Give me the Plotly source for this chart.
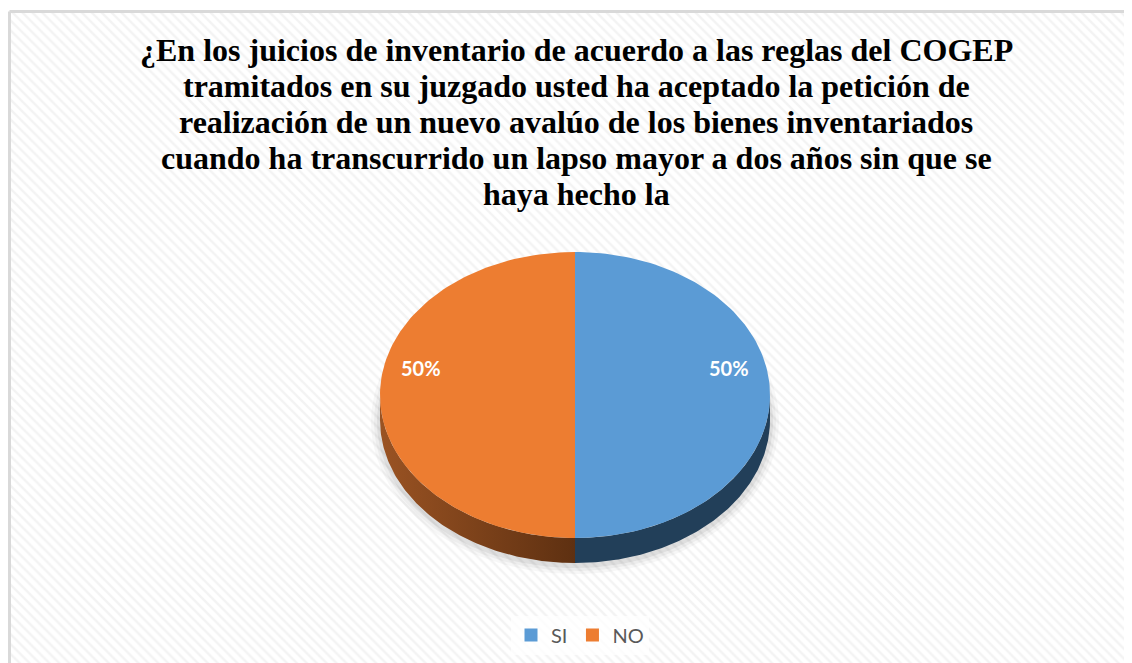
import numpy as np
import plotly.graph_objects as go

# ---- data ----
categories = ["SI", "NO"]
values = [50, 50]
top_colors = ["#5B9BD5", "#ED7D31"]
title_lines = [
    "¿En los juicios de inventario de acuerdo a las reglas del COGEP",
    "tramitados en su juzgado usted ha aceptado la petición de",
    "realización de un nuevo avalúo de los bienes inventariados",
    "cuando ha transcurrido un lapso mayor a dos años sin que se",
    "haya hecho la",
]

# ---- geometry (page pixel space; page body has an 8px margin) ----
W, H = 1132, 663
OFF = 8
cx, cy, rx, ry, depth = 575, 395, 195, 143, 25


def pt(theta_deg, dy=0.0):
    t = np.radians(theta_deg)
    return cx + rx * np.sin(t), cy - ry * np.cos(t) + dy


def arc(a, b, dy=0.0, n=120):
    th = np.linspace(a, b, n)
    xs, ys = pt(th, dy)
    return list(xs), list(ys)


fig = go.Figure()

# hatched chart-area background with light border
fig.add_trace(go.Scatter(
    x=[9.5, W + 20, W + 20, 9.5, 9.5], y=[11.5, 11.5, H + 20, H + 20, 11.5],
    fill="toself", mode="lines", line=dict(color="#D9D9D9", width=3),
    fillcolor="white",
    fillpattern=dict(shape="\\", fgcolor="#E8E8E8", bgcolor="white", size=7, solidity=0.35),
    hoverinfo="skip", showlegend=False))

# soft shadow
for k, op in [(9, 0.03), (6, 0.04), (3, 0.06)]:
    t = np.radians(np.linspace(0, 360, 240))
    fig.add_trace(go.Scatter(
        x=list(cx + (rx + k) * np.sin(t)), y=list(cy + depth + 2 - (ry + k) * np.cos(t)),
        fill="toself", mode="lines", line=dict(width=0),
        fillcolor=f"rgba(0,0,0,{op})", hoverinfo="skip", showlegend=False))

total = sum(values)
starts = np.cumsum([0] + values[:-1]) / total * 360
ends = np.cumsum(values) / total * 360
side_fill = [
    dict(fillcolor="#223F59"),
    dict(fillgradient=dict(type="horizontal",
                           colorscale=[[0, "#9A5323"], [1, "#5E3011"]])),
]

# side walls (front half only)
for i, (a, b) in enumerate(zip(starts, ends)):
    lo, hi = max(a, 90), min(b, 270)
    if hi <= lo:
        continue
    x1, y1 = arc(lo, hi)
    x2, y2 = arc(hi, lo, dy=depth)
    fig.add_trace(go.Scatter(
        x=x1 + x2 + [x1[0]], y=y1 + y2 + [y1[0]], fill="toself", mode="lines",
        line=dict(width=0), hoverinfo="skip", showlegend=False, **side_fill[i]))

# top faces
for i, (a, b) in enumerate(zip(starts, ends)):
    xs, ys = arc(a, b)
    fig.add_trace(go.Scatter(
        x=[cx] + xs + [cx], y=[cy] + ys + [cy], fill="toself", mode="lines",
        line=dict(width=0), fillcolor=top_colors[i], hoverinfo="skip", showlegend=False))

# data labels
for i, (a, b) in enumerate(zip(starts, ends)):
    m = (a + b) / 2
    lx = cx + 0.79 * rx * np.sin(np.radians(m))
    ly = cy - 0.79 * ry * np.cos(np.radians(m)) - 27
    pct = values[i] / total * 100
    fig.add_annotation(x=lx, y=ly, text=f"<b>{pct:.0f}%</b>", showarrow=False,
                       font=dict(family="Lato, Open Sans, sans-serif", size=20, color="white"))

# legend entries
for i, c in enumerate(categories):
    fig.add_trace(go.Scatter(x=[None], y=[None], mode="markers", name=c,
                             marker=dict(symbol="square", size=13, color=top_colors[i])))

# title, one annotation per line (tighter line spacing than plotly's default)
for j, line in enumerate(title_lines):
    fig.add_annotation(x=576, y=50 + j * 35.9, yanchor="middle", showarrow=False,
                       text=f"<b>{line}</b>",
                       font=dict(family="Liberation Serif, Times New Roman, serif",
                                 size=32, color="black"))

fig.update_layout(
    width=W, height=H, margin=dict(l=0, r=0, t=0, b=0),
    paper_bgcolor="white", plot_bgcolor="white",
    xaxis=dict(range=[OFF, W + OFF], visible=False, fixedrange=True),
    yaxis=dict(range=[H + OFF, OFF], visible=False, fixedrange=True),
    showlegend=True,
    legend=dict(orientation="h", x=(580 - OFF) / W, xanchor="center",
                y=1 - (635 - OFF) / H, yanchor="middle",
                bgcolor="rgba(255,255,255,0.75)",
                font=dict(family="Lato, Open Sans, sans-serif", size=20, color="#595959"),
                itemsizing="trace"),
)

fig.write_html("out.html")
